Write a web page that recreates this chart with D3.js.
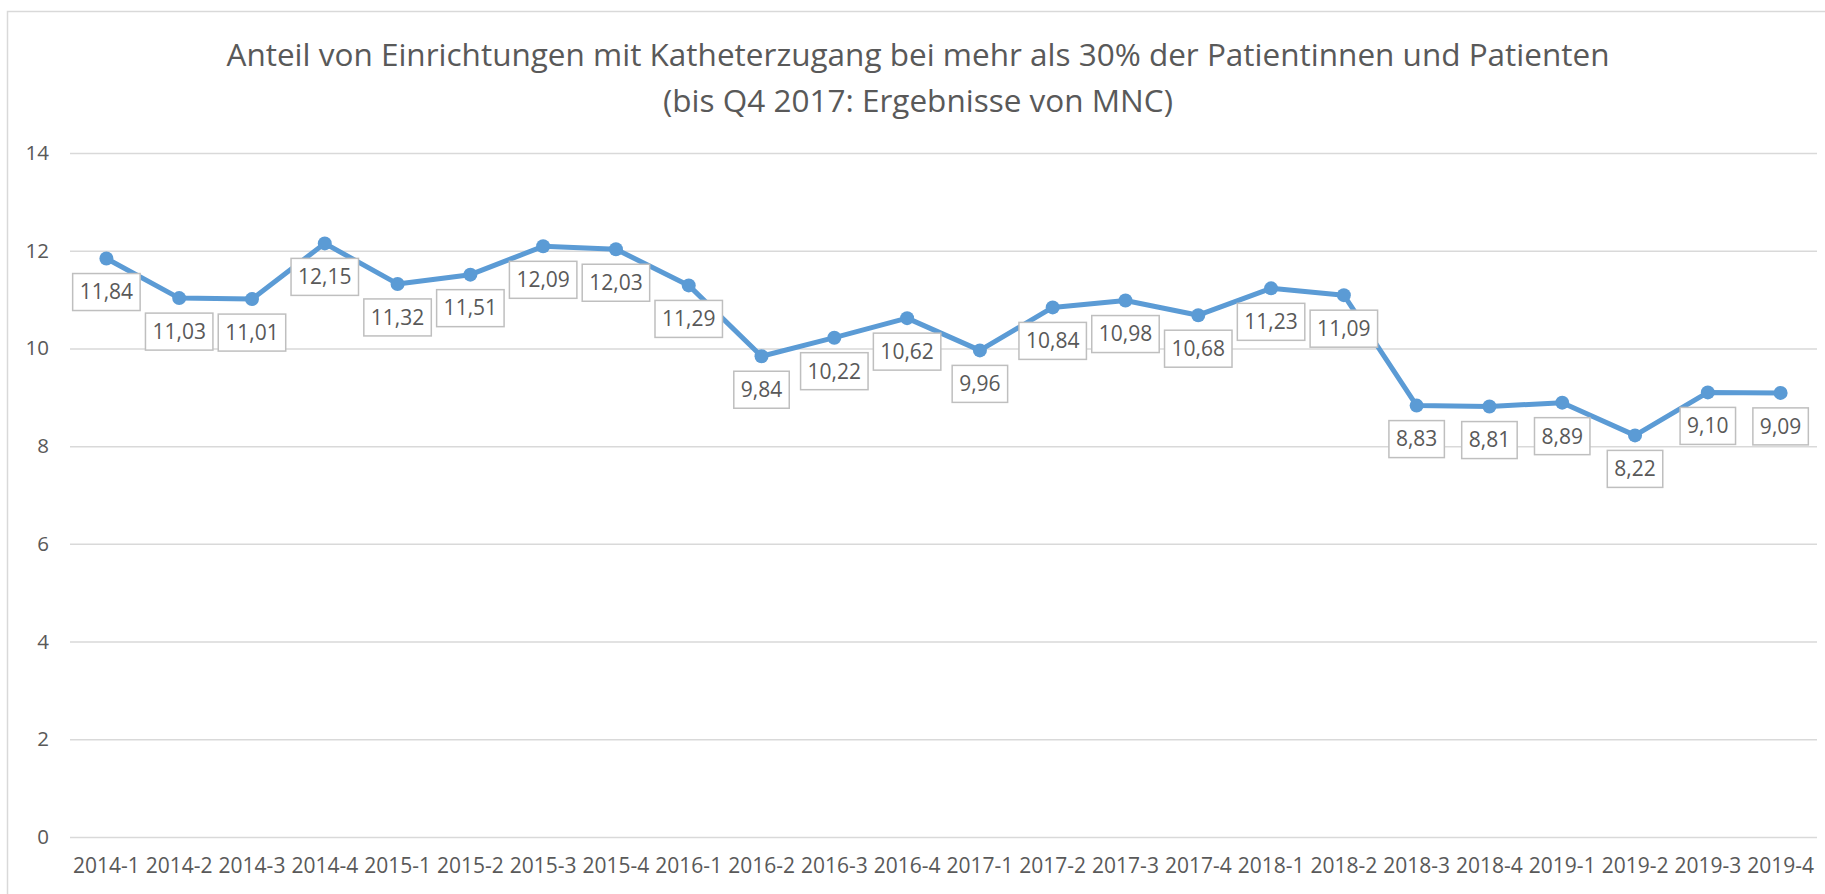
<!DOCTYPE html>
<html>
<head>
<meta charset="utf-8">
<script src="https://cdn.jsdelivr.net/npm/d3@7"></script>
<style>
	body { margin: 0; background: #ffffff; }
	text { font-family: 'Open Sans', sans-serif; fill: #595959; }
</style>
</head>
<body>
<div id="chart"></div>
<script>

// quarters on the x axis
var quarters = ["2014-1", "2014-2", "2014-3", "2014-4", "2015-1", "2015-2", "2015-3", "2015-4",
	"2016-1", "2016-2", "2016-3", "2016-4", "2017-1", "2017-2", "2017-3", "2017-4",
	"2018-1", "2018-2", "2018-3", "2018-4", "2019-1", "2019-2", "2019-3", "2019-4"];

// share of facilities per quarter (labels)
var shares = [11.84, 11.03, 11.01, 12.15, 11.32, 11.51, 12.09, 12.03,
	11.29, 9.84, 10.22, 10.62, 9.96, 10.84, 10.98, 10.68,
	11.23, 11.09, 8.83, 8.81, 8.89, 8.22, 9.10, 9.09];

// y axis ticks
var y_ticks = [0, 2, 4, 6, 8, 10, 12, 14];

// title lines
var title_lines = ["Anteil von Einrichtungen mit Katheterzugang bei mehr als 30% der Patientinnen und Patienten",
	"(bis Q4 2017: Ergebnisse von MNC)"];

var width = 1825,
	height = 894,
	plot = {left: 70, right: 1817, top: 153, bottom: 837},
	blue = "#5B9BD5",
	grid = "#D9D9D9";

var svg = d3.select("#chart")
	.append("svg")
	.attr("width", width)
	.attr("height", height);

svg.append("rect")
	.attr("width", width)
	.attr("height", height)
	.attr("fill", "#ffffff");

// chart area border, runs off the right and bottom edge like in the picture
svg.append("rect")
	.attr("x", 7.5)
	.attr("y", 11.5)
	.attr("width", width + 20)
	.attr("height", height + 20)
	.attr("fill", "none")
	.attr("stroke", grid)
	.attr("stroke-width", 1.5);

// title
svg.append("g")
	.selectAll("text")
	.data(title_lines)
	.enter()
	.append("text")
	.attr("x", 918)
	.attr("y", function(d, i){ return 66 + i * 46; })
	.attr("text-anchor", "middle")
	.attr("font-size", "31.5px")
	.text(function(d){ return d; });

var x = d3.scaleBand()
	.domain(quarters)
	.range([plot.left, plot.right]);

var y = d3.scaleLinear()
	.domain([0, 14])
	.range([plot.bottom, plot.top]);

function cx(d, i){ return x(quarters[i]) + x.bandwidth() / 2; }

// y axis with gridlines
var y_axis = svg.append("g")
	.attr("transform", "translate(" + plot.left + ",0)")
	.call(d3.axisLeft(y)
		.tickValues(y_ticks)
		.tickSize(-(plot.right - plot.left))
		.tickPadding(21)
		.tickFormat(d3.format("d")));

y_axis.select(".domain").remove();
y_axis.selectAll(".tick line")
	.attr("stroke", grid)
	.attr("stroke-width", 1.5);
y_axis.selectAll(".tick text")
	.attr("font-size", "20.5px")
	.attr("fill", "#595959");

// x axis, only labels
var x_axis = svg.append("g")
	.attr("transform", "translate(0," + plot.bottom + ")")
	.call(d3.axisBottom(x).tickSize(0).tickPadding(21));

x_axis.select(".domain").remove();
x_axis.selectAll(".tick text")
	.attr("font-size", "21px")
	.attr("fill", "#595959");

// the line itself
var line = d3.line()
	.x(cx)
	.y(function(d){ return y(d); });

svg.append("path")
	.datum(shares)
	.attr("d", line)
	.attr("fill", "none")
	.attr("stroke", blue)
	.attr("stroke-width", 5)
	.attr("stroke-linejoin", "round")
	.attr("stroke-linecap", "round");

svg.append("g")
	.selectAll("circle")
	.data(shares)
	.enter()
	.append("circle")
	.attr("cx", cx)
	.attr("cy", function(d){ return y(d); })
	.attr("r", 7)
	.attr("fill", blue);

// data labels in boxes below each point
var fmt = function(d){ return d.toFixed(2).replace(".", ","); };

var labels = svg.append("g")
	.selectAll("g")
	.data(shares)
	.enter()
	.append("g")
	.attr("transform", function(d, i){ return "translate(" + cx(d, i) + "," + (y(d) + 15) + ")"; });

labels.append("rect")
	.attr("class", "box")
	.attr("fill", "#ffffff")
	.attr("stroke", "#BFBFBF")
	.attr("stroke-width", 1.5);

labels.append("text")
	.attr("y", 18.5)
	.attr("dy", "0.35em")
	.attr("text-anchor", "middle")
	.attr("font-size", "21px")
	.attr("fill", "#404040")
	.text(fmt);

// size the boxes after the text so the padding is even
labels.each(function(){
	var g = d3.select(this);
	var w = g.select("text").node().getComputedTextLength() + 14;
	g.select("rect")
		.attr("x", -w / 2)
		.attr("y", 0)
		.attr("width", w)
		.attr("height", 37);
});

</script>
</body>
</html>
